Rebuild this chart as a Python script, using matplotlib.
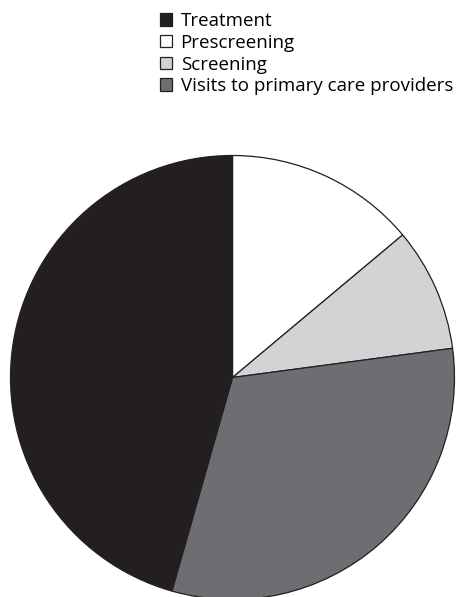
import matplotlib
matplotlib.use("Agg")
import matplotlib.pyplot as plt
from matplotlib.patches import Patch

# slice order clockwise from 12 o'clock
labels = ["Prescreening", "Screening", "Visits to primary care providers", "Treatment"]
values = [13.9, 9.0, 31.5, 45.6]
colors = ["#ffffff", "#d1d3d4", "#6d6e71", "#231f20"]

# legend order
legend_order = ["Treatment", "Prescreening", "Screening", "Visits to primary care providers"]

W, H = 458, 597
fig = plt.figure(figsize=(W / 100, H / 100), dpi=100)

cx, cy, r = 232.5, 377.5, 222
ax = fig.add_axes([(cx - r) / W, (H - cy - r) / H, 2 * r / W, 2 * r / H])
wedges, _ = ax.pie(values, colors=colors, startangle=90, counterclock=False,
                   radius=1, wedgeprops=dict(edgecolor="#231f20", linewidth=0.9))
ax.set_xlim(-1, 1)
ax.set_ylim(-1, 1)
ax.axis("off")

handles = [Patch(facecolor=colors[labels.index(n)], edgecolor="#231f20", linewidth=0.9)
           for n in legend_order]
fig.legend(handles, legend_order, loc="upper left",
           bbox_to_anchor=(160 / W, 1 - 12 / H), frameon=False,
           prop=dict(family="Open Sans", size=13.5), handlelength=0.65, handleheight=0.65,
           handletextpad=0.45, labelspacing=0.2, borderpad=0, borderaxespad=0)

fig.savefig("out.png", dpi=100)
